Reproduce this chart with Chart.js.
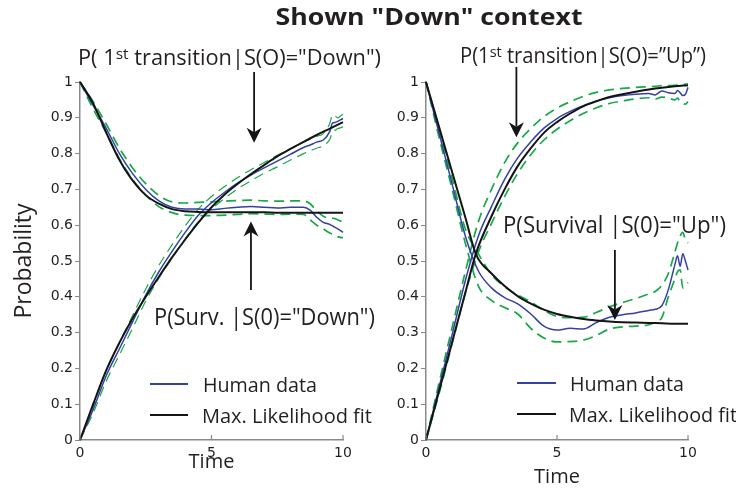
<!DOCTYPE html>
<html>
<head>
<meta charset="utf-8">
<script src="https://cdn.jsdelivr.net/npm/chart.js@4.4.1/dist/chart.umd.min.js"></script>
<style>
  html, body { margin: 0; padding: 0; background: #fff; }
  #wrap { position: relative; width: 736px; height: 489px; overflow: hidden; }
  #left { position: absolute; left: 0; top: 0; width: 390px; height: 489px; }
  #right { position: absolute; left: 368px; top: 0; width: 368px; height: 489px; }
  #title {
    position: absolute; top: 0px; left: 429px;
    transform: translateX(-50%) scaleX(1.16);
    font: bold 23px "Open Sans", sans-serif; color: #231f20; white-space: nowrap;
  }
</style>
</head>
<body>
<div id="wrap">
  <canvas id="left" width="390" height="489"></canvas>
  <canvas id="right" width="368" height="489"></canvas>
  <div id="title">Shown "Down" context</div>
</div>
<script>
// --- time grids ---
const timeFit = [0, 0.5, 1, 1.5, 1.9, 2.5, 3, 3.5, 4, 4.5, 5, 5.5, 6, 6.5, 7, 7.5, 8, 8.5, 9, 9.5, 10];
const timeData = [0, 0.5, 1, 1.5, 2, 2.5, 3, 3.5, 4, 4.5, 5, 5.5, 6, 6.5, 7, 7.5, 8, 8.5,
                  8.75, 9, 9.25, 9.5, 9.6, 9.7, 9.8, 9.9, 10];

// --- left panel: S(0) = "Down" ---
const downSurvFit = [1, 0.94, 0.858, 0.782, 0.735, 0.684, 0.66, 0.645, 0.639, 0.637, 0.636,
                     0.636, 0.636, 0.636, 0.636, 0.635, 0.635, 0.635, 0.635, 0.635, 0.635];
const downTransFit = [0, 0.1, 0.195, 0.272, 0.327, 0.4, 0.456, 0.51, 0.56, 0.607, 0.65,
                      0.686, 0.716, 0.743, 0.768, 0.792, 0.813, 0.833, 0.852, 0.87, 0.888];
const downSurvHuman = [1, 0.935, 0.87, 0.8, 0.744, 0.7, 0.668, 0.65, 0.645, 0.645, 0.643, 0.647, 0.65, 0.652, 0.65, 0.648, 0.65, 0.65,
                       0.642, 0.622, 0.608, 0.602, 0.598, 0.594, 0.59, 0.585, 0.58];
const downSurvUpper = [1, 0.945, 0.882, 0.815, 0.76, 0.716, 0.683, 0.665, 0.662, 0.664, 0.665, 0.667, 0.669, 0.67, 0.668, 0.667, 0.668, 0.668,
                       0.66, 0.64, 0.625, 0.62, 0.62, 0.618, 0.615, 0.612, 0.61];
const downSurvLower = [1, 0.925, 0.858, 0.785, 0.728, 0.684, 0.652, 0.635, 0.628, 0.627, 0.627, 0.628, 0.63, 0.632, 0.631, 0.63, 0.631, 0.63,
                       0.615, 0.6, 0.59, 0.578, 0.575, 0.572, 0.568, 0.566, 0.565];
const downTransHuman = [0, 0.085, 0.18, 0.255, 0.33, 0.405, 0.47, 0.527, 0.58, 0.628, 0.663, 0.692, 0.718, 0.74, 0.76, 0.779, 0.798, 0.817,
                        0.824, 0.832, 0.838, 0.862, 0.885, 0.887, 0.89, 0.894, 0.898];
const downTransUpper = [0, 0.095, 0.195, 0.272, 0.348, 0.422, 0.488, 0.545, 0.598, 0.645, 0.68, 0.708, 0.733, 0.755, 0.775, 0.795, 0.813, 0.832,
                        0.84, 0.848, 0.856, 0.885, 0.908, 0.905, 0.9, 0.905, 0.91];
const downTransLower = [0, 0.075, 0.165, 0.238, 0.312, 0.388, 0.452, 0.508, 0.562, 0.61, 0.645, 0.675, 0.702, 0.724, 0.745, 0.763, 0.782, 0.8,
                        0.808, 0.815, 0.822, 0.84, 0.86, 0.865, 0.87, 0.872, 0.875];

// --- right panel: S(0) = "Up" ---
const upSurvFit = [1, 0.874, 0.748, 0.622, 0.52, 0.465, 0.43, 0.402, 0.381, 0.364, 0.352,
                   0.344, 0.338, 0.334, 0.331, 0.329, 0.328, 0.327, 0.326, 0.325, 0.325];
const upTransFit = [0, 0.137, 0.274, 0.411, 0.52, 0.625, 0.7, 0.765, 0.815, 0.858, 0.888,
                    0.912, 0.932, 0.946, 0.958, 0.966, 0.973, 0.979, 0.984, 0.988, 0.991];
const upSurvHuman = [1, 0.857, 0.714, 0.57, 0.472, 0.425, 0.398, 0.38, 0.352, 0.318, 0.307, 0.312, 0.31, 0.328, 0.343, 0.35, 0.355, 0.362,
                     0.365, 0.375, 0.42, 0.49, 0.515, 0.485, 0.52, 0.5, 0.475];
const upSurvUpper = [1, 0.87, 0.73, 0.59, 0.52, 0.462, 0.428, 0.405, 0.386, 0.362, 0.345, 0.342, 0.343, 0.356, 0.372, 0.384, 0.395, 0.408,
                     0.415, 0.432, 0.465, 0.525, 0.55, 0.57, 0.58, 0.56, 0.55];
const upSurvLower = [1, 0.845, 0.7, 0.55, 0.43, 0.39, 0.37, 0.352, 0.312, 0.285, 0.274, 0.275, 0.279, 0.292, 0.31, 0.316, 0.318, 0.322,
                     0.33, 0.342, 0.4, 0.45, 0.47, 0.475, 0.425, 0.43, 0.44];
const upTransHuman = [0, 0.148, 0.295, 0.445, 0.57, 0.652, 0.728, 0.788, 0.833, 0.871, 0.898, 0.918, 0.934, 0.947, 0.956, 0.962, 0.966, 0.968,
                      0.964, 0.975, 0.97, 0.968, 0.976, 0.97, 0.962, 0.965, 0.985];
const upTransUpper = [0, 0.16, 0.315, 0.47, 0.61, 0.7, 0.775, 0.83, 0.87, 0.903, 0.927, 0.945, 0.96, 0.971, 0.978, 0.982, 0.985, 0.987,
                      0.988, 0.99, 0.99, 0.991, 0.992, 0.993, 0.993, 0.994, 0.995];
const upTransLower = [0, 0.13, 0.27, 0.41, 0.525, 0.605, 0.68, 0.745, 0.797, 0.838, 0.868, 0.892, 0.912, 0.928, 0.94, 0.947, 0.953, 0.956,
                      0.952, 0.958, 0.955, 0.95, 0.955, 0.945, 0.94, 0.938, 0.945];

// --- ticks ---
const xTicks = [0, 5, 10];
const yTickLabels = ['0', '0.1', '0.2', '0.3', '0.4', '0.5', '0.6', '0.7', '0.8', '0.9', '1'];

const BLUE = '#3341a0';
const BLACK = '#141414';
const GREEN = '#18a84a';
const AXIS = '#8a8a8a';
const TXT = '#231f20';
const ANNO_FONT = '"Open Sans", "Noto Sans", sans-serif';

function pts(times, values) {
    return times.map((t, i) => ({ x: t, y: values[i] }));
}

function drawArrow(ctx, x, yFrom, yTo) {
    const dir = yTo > yFrom ? 1 : -1;
    const headLen = 15, headW = 7.5;
    ctx.strokeStyle = BLACK;
    ctx.fillStyle = BLACK;
    ctx.lineWidth = 1.8;
    ctx.beginPath();
    ctx.moveTo(x, yFrom);
    ctx.lineTo(x, yTo - dir * headLen * 0.7);
    ctx.stroke();
    ctx.beginPath();
    ctx.moveTo(x, yTo);
    ctx.lineTo(x - headW, yTo - dir * headLen);
    ctx.lineTo(x, yTo - dir * headLen * 0.7);
    ctx.lineTo(x + headW, yTo - dir * headLen);
    ctx.closePath();
    ctx.fill();
}

// text made of parts, squeezed to the width it has in the figure
function drawParts(ctx, parts, x, baseline, size, width) {
    const supSize = Math.round(size * 0.72);
    let total = 0;
    parts.forEach(p => {
        ctx.font = (p.sup ? supSize : size) + 'px ' + ANNO_FONT;
        total += ctx.measureText(p.text).width;
    });
    ctx.save();
    ctx.translate(x, baseline);
    ctx.scale(width ? width / total : 1, 1);
    ctx.fillStyle = TXT;
    ctx.textBaseline = 'alphabetic';
    ctx.textAlign = 'left';
    let cx = 0;
    parts.forEach(p => {
        ctx.font = (p.sup ? supSize : size) + 'px ' + ANNO_FONT;
        ctx.fillText(p.text, cx, p.sup ? -size * 0.3 : 0);
        cx += ctx.measureText(p.text).width;
    });
    ctx.restore();
}

const annotate = {
    id: 'annotate',
    afterDraw(chart, args, opts) {
        const { ctx, chartArea } = chart;
        const xs = chart.scales.x, ys = chart.scales.y;
        ctx.save();
        // inward ticks on the time axis
        ctx.strokeStyle = AXIS;
        ctx.lineWidth = 1.2;
        xTicks.forEach(t => {
            const px = xs.getPixelForValue(t);
            ctx.beginPath();
            ctx.moveTo(px, chartArea.bottom);
            ctx.lineTo(px, chartArea.bottom - 5);
            ctx.stroke();
        });
        opts.arrows.forEach(a => {
            drawArrow(ctx, xs.getPixelForValue(a.t), ys.getPixelForValue(a.from), ys.getPixelForValue(a.to));
        });
        opts.labels.forEach(l => drawParts(ctx, l.parts, l.x, l.y, l.size, l.width));
        // legend
        const lg = opts.legend;
        [[BLUE, 'Human data', lg.y1, lg.w1], [BLACK, 'Max. Likelihood fit', lg.y2, lg.w2]].forEach(([c, txt, y, w], i) => {
            ctx.strokeStyle = c;
            ctx.lineWidth = i === 0 ? 1.8 : 2.2;
            ctx.beginPath();
            ctx.moveTo(lg.x0, y);
            ctx.lineTo(lg.x1, y);
            ctx.stroke();
            drawParts(ctx, [{ text: txt }], lg.tx + (i ? -1 : 0), y + 7.5, 20, w);
        });
        ctx.restore();
    }
};

function makeChart(id, cfg) {
    const green = (vals, w) => ({
        data: pts(timeData, vals), borderColor: GREEN, borderWidth: w, borderDash: [10, 6]
    });
    const datasets = [
        { data: pts(timeFit, cfg.survFit), borderColor: BLACK, borderWidth: 2 },
        { data: pts(timeFit, cfg.transFit), borderColor: BLACK, borderWidth: 2 },
        { data: pts(timeData, cfg.survHuman), borderColor: BLUE, borderWidth: 1.5 },
        { data: pts(timeData, cfg.transHuman), borderColor: BLUE, borderWidth: 1.5 },
        green(cfg.survUpper, 1.7), green(cfg.survLower, 1.7),
        green(cfg.transUpper, cfg.transDashW), green(cfg.transLower, cfg.transDashW)
    ].map(d => Object.assign({
        pointRadius: 0, fill: false, clip: false,
        cubicInterpolationMode: 'monotone'
    }, d));

    return new Chart(document.getElementById(id), {
        type: 'line',
        data: { datasets: datasets },
        plugins: [annotate],
        options: {
            responsive: false,
            animation: false,
            layout: { padding: { left: 0, top: 82, right: cfg.padRight, bottom: 0 } },
            scales: {
                x: {
                    type: 'linear', min: 0, max: 10,
                    afterFit: s => { s.height = 49; },
                    afterBuildTicks: s => { s.ticks = xTicks.map(v => ({ value: v })); },
                    grid: { display: true, drawOnChartArea: false, drawTicks: false, color: AXIS },
                    border: { display: true, color: AXIS, width: 1.5 },
                    ticks: { padding: 5, color: TXT, font: { family: 'DejaVu Sans', size: 14 } },
                    title: {
                        display: true, text: 'Time', color: TXT,
                        font: { family: ANNO_FONT, size: 20 },
                        padding: { top: 0, bottom: cfg.timePad }
                    }
                },
                y: {
                    min: 0, max: 1,
                    afterFit: s => { s.width = cfg.yWidth; },
                    ticks: {
                        stepSize: 0.1, padding: 2, color: TXT,
                        font: { family: 'DejaVu Sans', size: 14 },
                        callback: (v, i) => yTickLabels[i]
                    },
                    grid: { display: true, drawOnChartArea: false, drawTicks: true, tickLength: 5, color: AXIS },
                    border: { display: true, color: AXIS, width: 1.5 },
                    title: {
                        display: cfg.yTitle, text: 'Probability', color: TXT,
                        font: { family: ANNO_FONT, size: 23 },
                        padding: { top: 11, bottom: 0 }
                    }
                }
            },
            plugins: {
                legend: { display: false },
                tooltip: { enabled: false },
                annotate: cfg.annotate
            }
        }
    });
}

makeChart('left', {
    survFit: downSurvFit, transFit: downTransFit,
    survHuman: downSurvHuman, transHuman: downTransHuman,
    survUpper: downSurvUpper, survLower: downSurvLower,
    transUpper: downTransUpper, transLower: downTransLower,
    transDashW: 1.2, padRight: 47, yWidth: 80, yTitle: true, timePad: 15,
    annotate: {
        arrows: [{ t: 6.62, from: 1.028, to: 0.83 }, { t: 6.5, from: 0.419, to: 0.61 }],
        labels: [
            { x: 78, y: 65, size: 21, width: 303,
              parts: [{ text: 'P( 1' }, { text: 'st', sup: true }, { text: ' transition|S(O)="Down")' }] },
            { x: 154, y: 325, size: 23, width: 221,
              parts: [{ text: 'P(Surv. |S(0)="Down")' }] }
        ],
        legend: { x0: 150, x1: 188, tx: 203, y1: 384, y2: 415, w1: 114, w2: 170 }
    }
});

makeChart('right', {
    survFit: upSurvFit, transFit: upTransFit,
    survHuman: upSurvHuman, transHuman: upTransHuman,
    survUpper: upSurvUpper, survLower: upSurvLower,
    transUpper: upTransUpper, transLower: upTransLower,
    transDashW: 1.7, padRight: 48, yWidth: 58, yTitle: false, timePad: 0,
    annotate: {
        arrows: [{ t: 3.45, from: 1.042, to: 0.846 }, { t: 7.21, from: 0.531, to: 0.335 }],
        labels: [
            { x: 92, y: 63, size: 21, width: 246,
              parts: [{ text: 'P(1' }, { text: 'st', sup: true }, { text: ' transition|S(O)=\u201dUp\u201d)' }] },
            { x: 135, y: 233, size: 23, width: 223,
              parts: [{ text: 'P(Survival |S(0)="Up")' }] }
        ],
        legend: { x0: 149, x1: 188, tx: 202, y1: 383, y2: 414, w1: 114, w2: 168 }
    }
});
</script>
</body>
</html>
